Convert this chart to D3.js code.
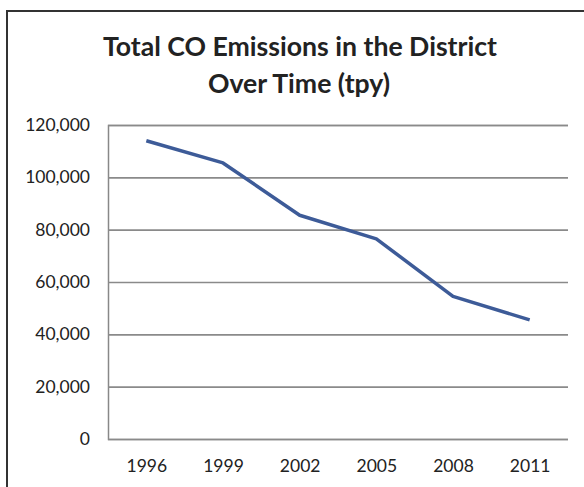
<!DOCTYPE html>
<html><head><meta charset="utf-8">
<script src="https://cdn.jsdelivr.net/npm/d3@7"></script>
<style>html,body{margin:0;padding:0;background:#fff;}</style>
</head><body>
<svg id="c" width="584" height="487"></svg>
<script>
const years = ["1996","1999","2002","2005","2008","2011"];
const emissions = [114000, 105500, 85500, 76500, 54500, 45500];
const yTicks = [0, 20000, 40000, 60000, 80000, 100000, 120000];
const titleLines = ["Total CO Emissions in the District", "Over Time (tpy)"];

(function(){
const svg = d3.select("#c");
const font = "Lato, 'Open Sans', sans-serif";
const pLeft = 108, pRight = 568, pTop = 125, pBottom = 439;

svg.append("rect").attr("x",0).attr("y",0).attr("width",584).attr("height",487).attr("fill","#fff");
svg.append("rect").attr("x",7).attr("y",11).attr("width",600).attr("height",500)
  .attr("fill","none").attr("stroke","#333").attr("stroke-width",2);

const x = d3.scalePoint().domain(years).range([pLeft,pRight]).padding(0.5);
const y = d3.scaleLinear().domain([0,120000]).range([pBottom,pTop]);

const yAxis = d3.axisLeft(y).tickValues(yTicks).tickSize(-(pRight-pLeft)).tickPadding(18)
  .tickFormat(d3.format(","));
const gy = svg.append("g").attr("transform",`translate(${pLeft},0)`).call(yAxis);
gy.select(".domain").attr("stroke","#888").attr("stroke-width",1.5);
gy.selectAll(".tick line").attr("stroke","#8a8a8a").attr("stroke-width",1.6);
gy.selectAll(".tick text").attr("font-family",font).attr("font-size",17.5).attr("fill","#222");

const xAxis = d3.axisBottom(x).tickSize(0).tickPadding(21);
const gx = svg.append("g").attr("transform",`translate(0,${pBottom})`).call(xAxis);
gx.select(".domain").remove();
gx.selectAll(".tick text").attr("font-family",font).attr("font-size",17.5).attr("fill","#222");

const line = d3.line().x((d,i)=>x(years[i])).y(d=>y(d));
svg.append("path").datum(emissions).attr("d",line).attr("fill","none")
  .attr("stroke","#3d5b98").attr("stroke-width",3.5).attr("stroke-linejoin","round");

const t1 = svg.append("text").attr("x",300).attr("y",56).attr("text-anchor","middle")
  .attr("font-family",font).attr("font-weight","bold").attr("font-size",24).attr("fill","#222").text(titleLines[0]);
const t2 = svg.append("text").attr("x",299).attr("y",93).attr("text-anchor","middle")
  .attr("font-family",font).attr("font-weight","bold").attr("font-size",24).attr("fill","#222").text(titleLines[1]);
const w1 = t1.node().getComputedTextLength();
const fs = 24*394/w1;
t1.attr("font-size",fs); t2.attr("font-size",fs);
})();
</script>
</body></html>
